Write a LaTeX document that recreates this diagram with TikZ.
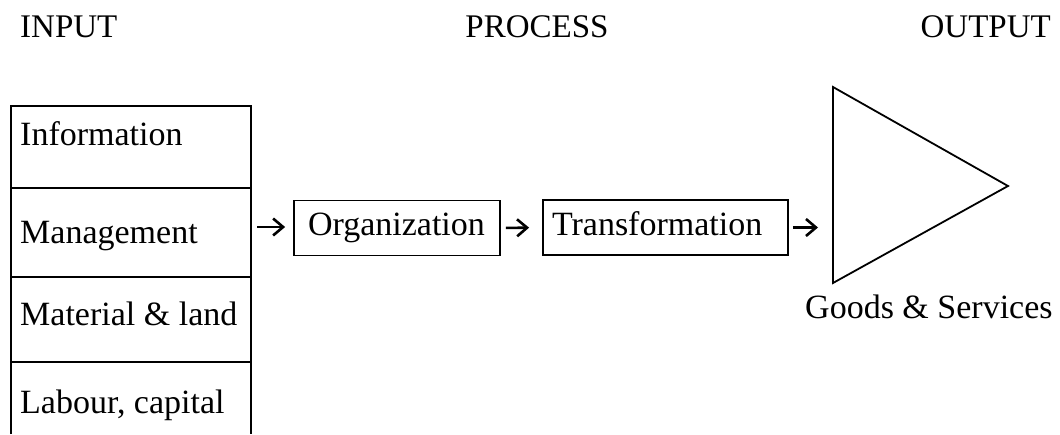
\documentclass[tikz,border=0pt]{standalone}
\usepackage{fontspec}
\setmainfont{Liberation Serif}
\usetikzlibrary{arrows.meta}

\begin{document}
\begin{tikzpicture}[x=1pt, y=-1pt,
    txt/.style={inner sep=0pt, anchor=base west, font=\fontsize{34}{40}\selectfont},
    head/.style={txt, font=\fontsize{33}{40}\selectfont},
    stage/.style={draw, line width=1.8pt, minimum height=55pt, inner ysep=0pt, text height=23pt, text depth=8pt, align=left, font=\fontsize{34}{40}\selectfont},
    flow/.style={-{Straight Barb[length=10pt, width=17pt]}, line width=2.6pt}]
        \useasboundingbox (0,0) rectangle (1060,434);

        % headings
        \node[head] (hin) at (20,37) {INPUT};
        \node[head, anchor=base] (hproc) at (537,37) {PROCESS};
        \node[head, anchor=base east] (hout) at (1051,37) {OUTPUT};

        % input column
        \draw[line width=1.8pt] (11,434) -- (11,106) -- (251,106) -- (251,434);
        \draw[line width=1.8pt] (11,188) -- (251,188);
        \draw[line width=1.8pt] (11,277) -- (251,277);
        \draw[line width=1.8pt] (11,362) -- (251,362);
        \node[txt] (info) at (20,145) {Information};
        \node[txt] (mgmt) at (20,243) {Management};
        \node[txt] (mat) at (20,325) {Material \& land};
        \node[txt] (lab) at (20,413) {Labour, capital};
        \coordinate (inR) at (251,227);

        % process
        \node[stage, text width=178pt, inner xsep=14pt] (org) at (397,228) {Organization};
        \node[stage, text width=227pt, inner xsep=9pt] (trans) at (665.5,227.5) {Transformation};

        % output
        \coordinate (tA) at (833,87);
        \coordinate (tB) at (833,283);
        \coordinate (tC) at (1008,186);
        \draw[line width=1.8pt, line join=miter] (tA) -- (tC) -- (tB) -- cycle;
        \coordinate (outL) at (833,227);
        \node[txt] (goods) at (805,318) {Goods \& Services};

        \draw[flow, shorten <=6pt, shorten >=8pt] (inR) -- (inR -| org.west);
        \draw[flow, shorten <=5pt, shorten >=13pt] (org.east) -- (trans.west);
        \draw[flow, shorten <=4pt, shorten >=15pt] (trans.east) -- (trans.east -| outL);
    \end{tikzpicture}
\end{document}
